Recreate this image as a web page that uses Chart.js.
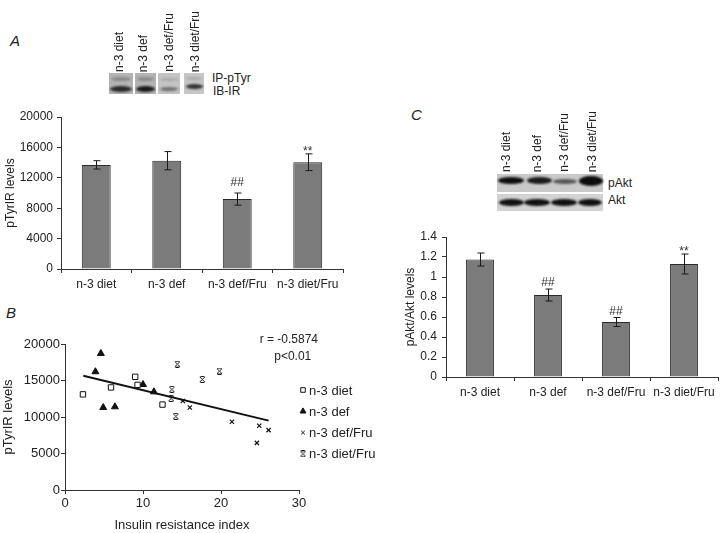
<!DOCTYPE html>
<html>
<head>
<meta charset="utf-8">
<script src="https://cdn.jsdelivr.net/npm/chart.js"></script>
<style>
body { margin:0; width:720px; height:533px; position:relative; background:#fff; overflow:hidden;
       font-family:"Liberation Sans", Arial, sans-serif; color:#222; }
canvas { position:absolute; }
.painel { position:absolute; font-style:italic; font-size:15px; line-height:15px; }
.lane { position:absolute; writing-mode:vertical-rl; transform:rotate(180deg); font-size:12px; line-height:12px; white-space:nowrap; }
.rotulo { position:absolute; font-size:12px; line-height:14px; }
.blot { position:absolute; }
.banda { position:absolute; border-radius:50%; filter:blur(0.8px); }
</style>
</head>
<body>

<div class="painel" style="left:10px; top:33px;">A</div>
<div class="painel" style="left:6px; top:305px;">B</div>
<div class="painel" style="left:411px; top:107px;">C</div>

<!-- blot A -->
<div class="lane" style="left:113px; bottom:461px;">n-3 diet</div>
<div class="lane" style="left:137px; bottom:461px;">n-3 def</div>
<div class="lane" style="left:163px; bottom:461px;">n-3 def/Fru</div>
<div class="lane" style="left:189px; bottom:461px;">n-3 diet/Fru</div>
<div class="blot" style="left:109px; top:73px; width:24px; height:21px; background:#b4b4b4;"></div>
<div class="blot" style="left:135px; top:73px; width:21px; height:21px; background:#b4b4b4;"></div>
<div class="blot" style="left:158px; top:73px; width:22px; height:21px; background:#c4c4c4;"></div>
<div class="blot" style="left:184px; top:73px; width:20px; height:21px; background:#c6c6c6;"></div>
<div class="banda" style="left:111px; top:77px; width:20px; height:4px; background:#8a8a8a;"></div>
<div class="banda" style="left:137px; top:77px; width:17px; height:4px; background:#8a8a8a;"></div>
<div class="banda" style="left:160px; top:78px; width:18px; height:3px; background:#a8a8a8;"></div>
<div class="banda" style="left:186px; top:77px; width:16px; height:3px; background:#a8a8a8;"></div>
<div class="banda" style="left:110px; top:86px; width:22px; height:6px; background:#2a2a2a;"></div>
<div class="banda" style="left:136px; top:86px; width:19px; height:6px; background:#1a1a1a;"></div>
<div class="banda" style="left:160px; top:87px; width:18px; height:4px; background:#707070;"></div>
<div class="banda" style="left:186px; top:84px; width:17px; height:5px; background:#333;"></div>
<div class="rotulo" style="left:212px; top:71px;">IP-pTyr</div>
<div class="rotulo" style="left:213px; top:84px;">IB-IR</div>

<!-- blot C -->
<div class="lane" style="left:500px; bottom:361px;">n-3 diet</div>
<div class="lane" style="left:531px; bottom:361px;">n-3 def</div>
<div class="lane" style="left:558px; bottom:361px;">n-3 def/Fru</div>
<div class="lane" style="left:586px; bottom:361px;">n-3 diet/Fru</div>
<div class="blot" style="left:497px; top:174px; width:106px; height:18px; background:#c9c9c9;"></div>
<div class="blot" style="left:497px; top:194px; width:106px; height:17px; background:#d2d2d2;"></div>
<div class="banda" style="left:498px; top:177px; width:26px; height:7px; background:#0d0d0d;"></div>
<div class="banda" style="left:527px; top:177px; width:25px; height:7px; background:#1a1a1a;"></div>
<div class="banda" style="left:553px; top:179px; width:24px; height:5px; background:#555;"></div>
<div class="banda" style="left:579px; top:176px; width:24px; height:10px; background:#0d0d0d;"></div>
<div class="banda" style="left:499px; top:199px; width:25px; height:7px; background:#111;"></div>
<div class="banda" style="left:524px; top:199px; width:26px; height:7px; background:#111;"></div>
<div class="banda" style="left:551px; top:199px; width:26px; height:7px; background:#111;"></div>
<div class="banda" style="left:578px; top:199px; width:24px; height:7px; background:#111;"></div>
<div class="rotulo" style="left:608px; top:176px;">pAkt</div>
<div class="rotulo" style="left:608px; top:193px;">Akt</div>

<canvas id="graficoA" width="350" height="200" style="left:0; top:100px;"></canvas>
<canvas id="graficoB" width="400" height="233" style="left:0; top:300px;"></canvas>
<canvas id="graficoC" width="320" height="190" style="left:400px; top:220px;"></canvas>

<script>
const categorias = ["n-3 diet", "n-3 def", "n-3 def/Fru", "n-3 diet/Fru"];

// painel A
const pTyrIR = [13700, 14250, 9200, 14050];
const pTyrIRErro = [550, 1200, 800, 1100];
const pTyrIRMarca = ["", "", "##", "**"];

// painel C
const pAktAkt = [1.175, 0.82, 0.55, 1.13];
const pAktAktErro = [0.065, 0.06, 0.045, 0.1];
const pAktAktMarca = ["", "##", "##", "**"];

// painel B - indice de resistencia x pTyrIR
const irDiet = [2.3, 5.9, 9.0, 9.3, 12.5];
const tyrDiet = [13100, 14050, 15500, 14400, 11700];
const irDef = [4.6, 3.9, 4.9, 6.4, 10.0, 11.4];
const tyrDef = [18700, 16200, 11300, 11400, 14450, 13450];
const irDefFru = [15.1, 16.0, 21.4, 24.9, 26.1, 24.6];
const tyrDefFru = [12200, 11300, 9350, 8800, 8200, 6450];
const irDietFru = [14.4, 13.7, 14.2, 17.6, 19.8, 13.6];
const tyrDietFru = [17250, 13800, 10100, 15150, 16300, 12550];
const linhaIR = [2.35, 26.1];
const linhaTyr = [15650, 9500];
const estatistica = ["r = -0.5874", "p<0.01"];

const familia = '"Liberation Sans", Arial, sans-serif';
const fonte12 = { size: 12, family: familia };
const fonte13 = { size: 13, family: familia };
const corTexto = '#222';
const corEixo = '#333';

function pontos(xs, ys) {
    return xs.map((x, i) => ({ x: x, y: ys[i] }));
}

function criarEstrela() {
    const c = document.createElement('canvas');
    c.width = 7; c.height = 7;
    const g = c.getContext('2d');
    g.strokeStyle = '#111';
    g.lineWidth = 1;
    g.beginPath();
    g.moveTo(1, 1); g.lineTo(6, 6);
    g.moveTo(6, 1); g.lineTo(1, 6);
    g.moveTo(1.5, 0.5); g.lineTo(5.5, 0.5);
    g.moveTo(1.5, 6.5); g.lineTo(5.5, 6.5);
    g.stroke();
    return c;
}
const estrela = criarEstrela();

// barras de erro + marcas de significancia
const barrasErro = {
    id: 'barrasErro',
    afterDatasetsDraw(chart, args, opts) {
        const ctx = chart.ctx;
        const escalaY = chart.scales.y;
        const meta = chart.getDatasetMeta(0);
        ctx.save();
        ctx.strokeStyle = '#1a1a1a';
        ctx.lineWidth = 1;
        ctx.fillStyle = '#333';
        ctx.font = '12px ' + familia;
        ctx.textAlign = 'center';
        ctx.textBaseline = 'alphabetic';
        meta.data.forEach((barra, i) => {
            const v = opts.valores[i];
            const e = opts.erros[i];
            const topo = escalaY.getPixelForValue(v + e);
            const base = escalaY.getPixelForValue(v - e);
            const x = Math.round(barra.x) + 0.5;
            ctx.beginPath();
            ctx.moveTo(x, topo); ctx.lineTo(x, base);
            ctx.moveTo(x - 3, topo); ctx.lineTo(x + 4, topo);
            ctx.moveTo(x - 3, base); ctx.lineTo(x + 4, base);
            ctx.stroke();
            const marca = opts.marcas[i];
            if (marca) {
                ctx.fillText(marca, barra.x, marca == '**' ? topo + 1 : topo - opts.folga);
            }
        });
        ctx.restore();
    }
};

function configBarras(valores, erros, marcas, folga, yMax, passo, titulo, largY, pad) {
    return {
        type: 'bar',
        data: {
            labels: categorias,
            datasets: [{
                data: valores,
                backgroundColor: '#7b7b7b',
                borderColor: '#2a2a2a',
                borderWidth: 1,
                barPercentage: 0.41,
                categoryPercentage: 1
            }]
        },
        options: {
            responsive: false,
            animation: false,
            layout: { padding: pad },
            plugins: {
                legend: { display: false },
                tooltip: { enabled: false },
                barrasErro: { valores: valores, erros: erros, marcas: marcas, folga: folga }
            },
            scales: {
                x: {
                    grid: { offset: true, drawOnChartArea: false, tickLength: 4, tickColor: corEixo },
                    border: { color: corEixo },
                    ticks: { color: corTexto, font: fonte12, padding: 4, maxRotation: 0 },
                    afterFit(s) { s.height = pad.xAltura; }
                },
                y: {
                    min: 0,
                    max: yMax,
                    grid: { drawOnChartArea: false, tickLength: 4, tickColor: corEixo },
                    border: { color: corEixo },
                    ticks: { stepSize: passo, color: corTexto, font: fonte12, padding: pad.yPad, callback: v => String(Math.round(v * 10) / 10) },
                    title: { display: true, text: titulo, color: corTexto, font: fonte12, padding: 3 },
                    afterFit(s) { s.width = largY; }
                }
            }
        },
        plugins: [barrasErro]
    };
}

const graficoA = new Chart(document.getElementById('graficoA'),
    configBarras(pTyrIR, pTyrIRErro, pTyrIRMarca, 7, 20000, 4000, 'pTyrIR levels', 61,
        { top: 17, right: 7, bottom: 0, left: 0, xAltura: 31, yPad: 4 }));

const graficoC = new Chart(document.getElementById('graficoC'),
    configBarras(pAktAkt, pAktAktErro, pAktAktMarca, 3, 1.4, 0.2, 'pAkt/Akt levels', 46,
        { top: 17, right: 2, bottom: 0, left: 0, xAltura: 33, yPad: 5 }));

// legenda e texto de correlacao do painel B
const legendaB = {
    id: 'legendaB',
    afterDraw(chart) {
        const ctx = chart.ctx;
        const area = chart.chartArea;
        const ex = chart.scales.x;
        const ey = chart.scales.y;
        ctx.save();
        ctx.fillStyle = corTexto;
        ctx.font = '12px ' + familia;
        ctx.textAlign = 'center';
        ctx.textBaseline = 'middle';
        ctx.fillText(estatistica[0], ex.getPixelForValue(28.7), ey.getPixelForValue(20550));
        ctx.fillText(estatistica[1], ex.getPixelForValue(29.2), ey.getPixelForValue(18220));

        ctx.font = '13px ' + familia;
        ctx.textAlign = 'left';
        chart.data.datasets.slice(0, 4).forEach((ds, i) => {
            const y = area.top + 46 + i * 21.3;
            const x = area.right + 4;
            ctx.fillStyle = ds.backgroundColor;
            ctx.strokeStyle = ds.borderColor;
            ctx.lineWidth = 1;
            Chart.helpers.drawPoint(ctx, { pointStyle: ds.pointStyle, radius: ds.pointRadius * 0.85, borderWidth: 1, rotation: 0 }, x, y);
            ctx.fillStyle = corTexto;
            ctx.fillText(ds.label, x + 6, y + 1);
        });
        ctx.restore();
    }
};

const graficoB = new Chart(document.getElementById('graficoB'), {
    type: 'scatter',
    data: {
        datasets: [
            { label: 'n-3 diet', data: pontos(irDiet, tyrDiet), pointStyle: 'rect', pointRadius: 3.8, backgroundColor: '#fff', borderColor: '#111', borderWidth: 1 },
            { label: 'n-3 def', data: pontos(irDef, tyrDef), pointStyle: 'triangle', pointRadius: 4, backgroundColor: '#111', borderColor: '#111', borderWidth: 1 },
            { label: 'n-3 def/Fru', data: pontos(irDefFru, tyrDefFru), pointStyle: 'crossRot', pointRadius: 3, backgroundColor: '#111', borderColor: '#111', borderWidth: 1.2 },
            { label: 'n-3 diet/Fru', data: pontos(irDietFru, tyrDietFru), pointStyle: estrela, pointRadius: 4, backgroundColor: '#111', borderColor: '#111', borderWidth: 1 },
            { label: 'tendencia', type: 'line', data: pontos(linhaIR, linhaTyr), borderColor: '#111', borderWidth: 2, pointRadius: 0, showLine: true, fill: false }
        ]
    },
    options: {
        responsive: false,
        animation: false,
        layout: { padding: { top: 44, right: 101, bottom: 0, left: 0 } },
        plugins: {
            legend: { display: false },
            tooltip: { enabled: false }
        },
        scales: {
            x: {
                type: 'linear',
                min: 0,
                max: 30,
                grid: { drawOnChartArea: false, tickLength: 4, tickColor: corEixo },
                border: { color: corEixo },
                ticks: { stepSize: 10, color: corTexto, font: fonte13, padding: 2 },
                title: { display: true, text: 'Insulin resistance index', color: corTexto, font: fonte13, padding: { top: 4, bottom: 0 } },
                afterFit(s) { s.height = 43; }
            },
            y: {
                min: 0,
                max: 20000,
                grid: { drawOnChartArea: false, tickLength: 4, tickColor: corEixo },
                border: { color: corEixo },
                ticks: { stepSize: 5000, color: corTexto, font: fonte13, padding: 1, callback: v => String(v) },
                title: { display: true, text: 'pTyrIR levels', color: corTexto, font: fonte13, padding: 1 },
                afterFit(s) { s.width = 65; }
            }
        }
    },
    plugins: [legendaB]
});
</script>
</body>
</html>
